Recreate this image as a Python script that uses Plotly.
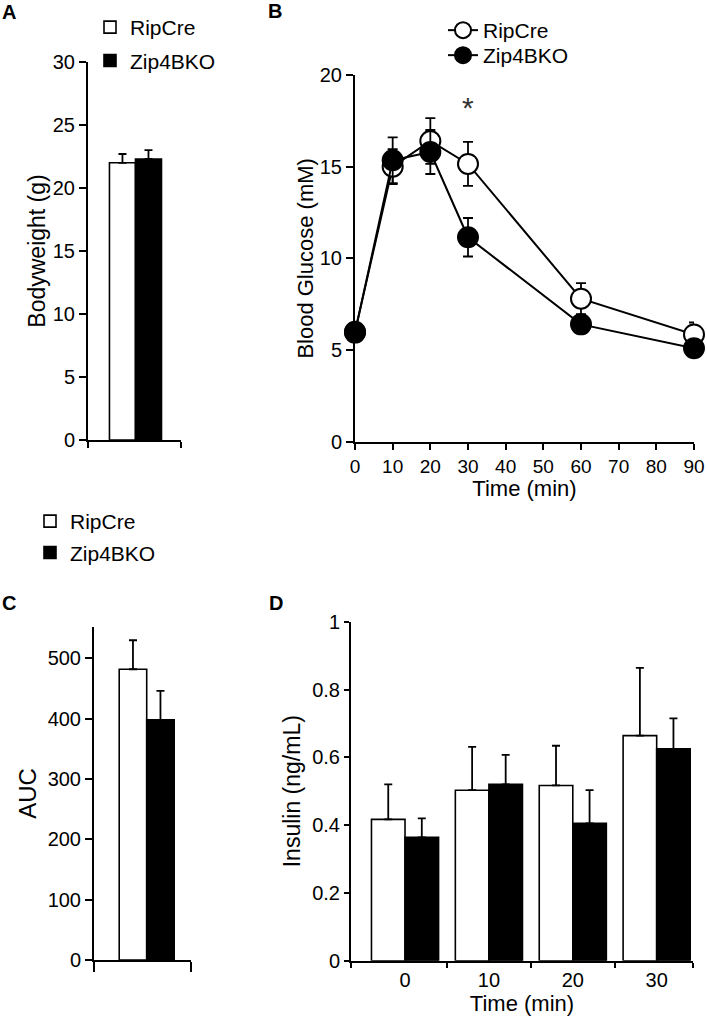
import plotly.graph_objects as go

W, H = 707, 1016
FONT = "Liberation Sans, Arial, sans-serif"

# ---------------- data ----------------
groups = ["RipCre", "Zip4BKO"]

# Panel A: body weight (g)
bw_mean = [22.0, 22.3]
bw_err = [0.7, 0.7]

# Panel B: blood glucose (mM)
time_b = [0, 10, 20, 30, 60, 90]
glu_rip = [6.0, 15.0, 16.4, 15.15, 7.8, 5.85]
glu_rip_err = [0.4, 0.95, 1.25, 1.2, 0.85, 0.65]
glu_ko = [5.95, 15.35, 15.8, 11.15, 6.4, 5.1]
glu_ko_err = [0.3, 1.25, 1.2, 1.05, 0.4, 0.3]

# Panel C: AUC
auc_mean = [482, 398]
auc_err = [48, 48]

# Panel D: insulin (ng/mL)
time_d = ["0", "10", "20", "30"]
ins_rip = [0.417, 0.503, 0.517, 0.664]
ins_rip_err = [0.103, 0.128, 0.117, 0.200]
ins_ko = [0.364, 0.520, 0.405, 0.625]
ins_ko_err = [0.056, 0.087, 0.098, 0.090]

# ---------------- helpers ----------------
def xd(a, b):
    return [a / W, b / W]

def yd(top, bottom):
    return [1 - bottom / H, 1 - top / H]

fig = go.Figure()

bar_line = dict(color="black", width=1.6)

# Panel A
fig.add_trace(go.Bar(x=[0], y=[bw_mean[0]], name=groups[0], marker=dict(color="white", line=bar_line),
                     error_y=dict(type="data", array=[bw_err[0]], arrayminus=[0], symmetric=False, color="black", thickness=1.8, width=4),
                     xaxis="x", yaxis="y", legend="legend", legendgroup="a1"))
fig.add_trace(go.Bar(x=[0], y=[bw_mean[1]], name=groups[1], marker=dict(color="black", line=bar_line),
                     error_y=dict(type="data", array=[bw_err[1]], arrayminus=[0], symmetric=False, color="black", thickness=1.8, width=4),
                     xaxis="x", yaxis="y", legend="legend", legendgroup="a2"))

# Panel B
fig.add_trace(go.Scatter(x=time_b, y=glu_rip, name=groups[0], mode="lines+markers",
                         line=dict(color="black", width=2),
                         marker=dict(symbol="circle", size=20, color="white", line=dict(color="black", width=2)),
                         error_y=dict(type="data", array=glu_rip_err, color="black", thickness=1.8, width=5),
                         cliponaxis=False, xaxis="x2", yaxis="y2", legend="legend2"))
fig.add_trace(go.Scatter(x=time_b, y=glu_ko, name=groups[1], mode="lines+markers",
                         line=dict(color="black", width=2),
                         marker=dict(symbol="circle", size=20, color="black", line=dict(color="black", width=2)),
                         error_y=dict(type="data", array=glu_ko_err, color="black", thickness=1.8, width=5),
                         cliponaxis=False, xaxis="x2", yaxis="y2", legend="legend4"))

# Panel C
fig.add_trace(go.Bar(x=[0], y=[auc_mean[0]], name=groups[0], marker=dict(color="white", line=bar_line),
                     error_y=dict(type="data", array=[auc_err[0]], arrayminus=[0], symmetric=False, color="black", thickness=1.8, width=4),
                     xaxis="x3", yaxis="y3", legend="legend3", legendgroup="c1"))
fig.add_trace(go.Bar(x=[0], y=[auc_mean[1]], name=groups[1], marker=dict(color="black", line=bar_line),
                     error_y=dict(type="data", array=[auc_err[1]], arrayminus=[0], symmetric=False, color="black", thickness=1.8, width=4),
                     xaxis="x3", yaxis="y3", legend="legend3", legendgroup="c2"))

# Panel D
xpos_d = list(range(len(time_d)))
fig.add_trace(go.Bar(x=xpos_d, y=ins_rip, name=groups[0], marker=dict(color="white", line=bar_line),
                     error_y=dict(type="data", array=ins_rip_err, arrayminus=[0] * 4, symmetric=False, color="black", thickness=1.8, width=4),
                     xaxis="x4", yaxis="y4", showlegend=False))
fig.add_trace(go.Bar(x=xpos_d, y=ins_ko, name=groups[1], marker=dict(color="black", line=bar_line),
                     error_y=dict(type="data", array=ins_ko_err, arrayminus=[0] * 4, symmetric=False, color="black", thickness=1.8, width=4),
                     xaxis="x4", yaxis="y4", showlegend=False))

axis_common = dict(showgrid=False, zeroline=False, showline=True, linecolor="black", linewidth=2,
                   ticks="outside", tickcolor="black", tickwidth=1.6,
                   tickfont=dict(family=FONT, size=20, color="black"))

xa_rng = [-0.73, 0.70]
yc_rng = [0, 552]
xc_rng = [-0.767, 0.64]
xd_rng = [-0.644, 3.433]

leg_common = dict(xanchor="left", yanchor="top", bgcolor="rgba(0,0,0,0)",
                  font=dict(family=FONT, size=21, color="black"), itemclick=False, itemdoubleclick=False)

fig.update_layout(
    xaxis=dict(axis_common, domain=xd(88, 181), range=xa_rng, tickvals=xa_rng, ticktext=["", ""], ticklen=6, anchor="y"),
    yaxis=dict(axis_common, domain=yd(62, 440), range=[0, 30], dtick=5, ticklen=7, anchor="x",
               title=dict(text="Bodyweight (g)", font=dict(family=FONT, size=23, color="black"), standoff=1)),
    xaxis2=dict(axis_common, domain=xd(355, 694), range=[0, 90], dtick=10, ticklen=6, anchor="y2",
                tickfont=dict(family=FONT, size=19, color="black"),
                title=dict(text="Time (min)", font=dict(family=FONT, size=22, color="black"), standoff=5)),
    yaxis2=dict(axis_common, domain=yd(75, 441.7), range=[0, 20], dtick=5, ticklen=7, anchor="x2",
                title=dict(text="Blood Glucose (mM)", font=dict(family=FONT, size=22, color="black"), standoff=0)),
    xaxis3=dict(axis_common, domain=xd(94, 190.7), range=xc_rng, tickvals=xc_rng, ticktext=["", ""], ticklen=10, anchor="y3"),
    yaxis3=dict(axis_common, domain=yd(627, 960), range=yc_rng, dtick=100, ticklen=7, anchor="x3",
                title=dict(text="AUC", font=dict(family=FONT, size=24, color="black"), standoff=4)),
    xaxis4=dict(axis_common, domain=xd(351, 693), range=xd_rng, tickvals=xpos_d, ticktext=time_d, ticks="",
                minor=dict(tickvals=[xd_rng[0], 0.5, 1.5, 2.5, xd_rng[1]], ticks="outside", ticklen=5, tickwidth=1.6, tickcolor="black"),
                anchor="y4",
                title=dict(text="Time (min)", font=dict(family=FONT, size=22, color="black"), standoff=1)),
    yaxis4=dict(axis_common, domain=yd(621.7, 960.7), range=[0, 1], ticklen=5, anchor="x4",
                tickvals=[0, 0.2, 0.4, 0.6, 0.8, 1.0], ticktext=["0", "0.2", "0.4", "0.6", "0.8", "1"],
                title=dict(text="Insulin (ng/mL)", font=dict(family=FONT, size=23, color="black"), standoff=5)),
    barmode="group", bargap=0.2, bargroupgap=0,
    width=W, height=H, autosize=False,
    margin=dict(l=0, r=0, t=0, b=0, autoexpand=False),
    paper_bgcolor="white", plot_bgcolor="white",
    font=dict(family=FONT, size=20, color="black"),
    legend=dict(leg_common, x=90 / W, y=1 - 7 / H, tracegroupgap=3),
    legend2=dict(leg_common, x=443 / W, y=1 - 10 / H),
    legend4=dict(leg_common, x=443 / W, y=1 - 35 / H),
    legend3=dict(leg_common, x=30 / W, y=1 - 501 / H, tracegroupgap=1),
    showlegend=True,
)

# Significance marker in panel B
fig.add_annotation(x=time_b[3], y=18.2, xref="x2", yref="y2", text="*", showarrow=False,
                   font=dict(family=FONT, size=30, color="#333333"), yanchor="middle")

# Panel letters
for lbl, px, py in [("A", 0, 12.5), ("B", 266, 11.5), ("C", 0, 603), ("D", 267, 603)]:
    fig.add_annotation(x=px / W, y=1 - py / H, xref="paper", yref="paper", text="<b>%s</b>" % lbl,
                       showarrow=False, xanchor="left", yanchor="middle",
                       font=dict(family=FONT, size=20, color="black"))

fig.write_html("out.html", config={"displayModeBar": False},
               post_script="document.body.style.margin='0';document.body.style.padding='0';")
